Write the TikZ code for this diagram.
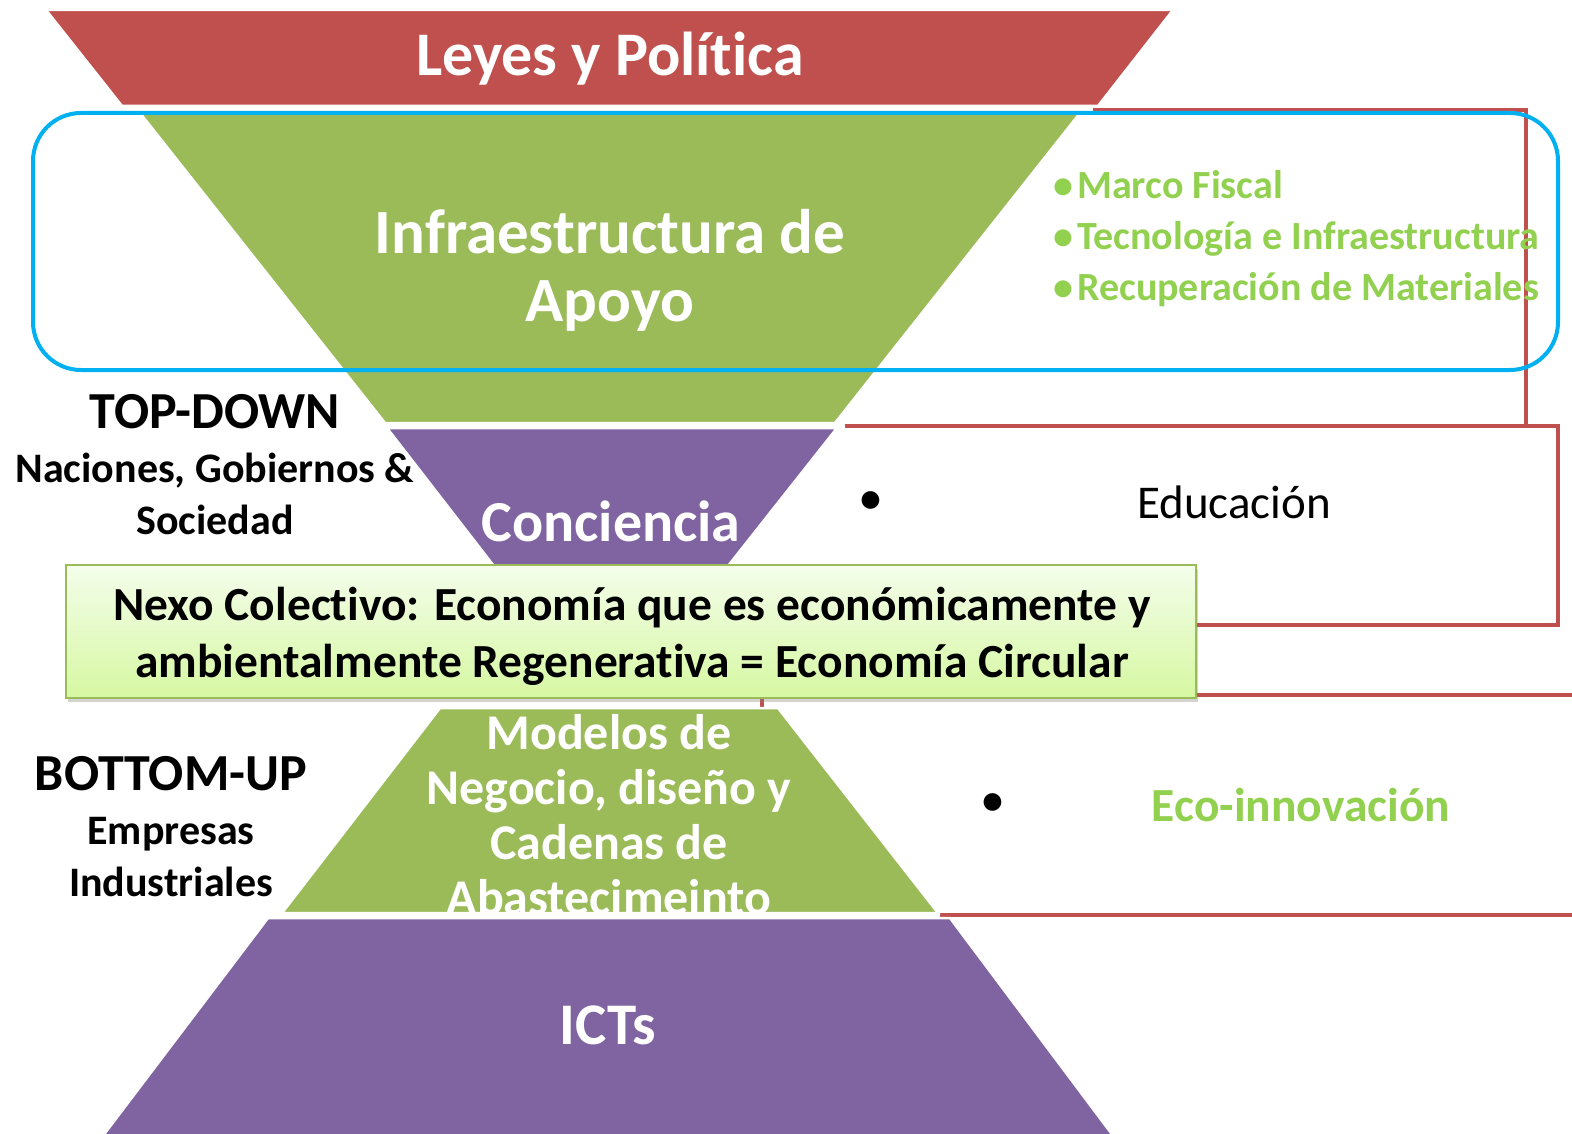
\documentclass[tikz,border=0pt]{standalone}
\usepackage{fontspec}
\setmainfont{Carlito}[Ligatures=NoCommon]
\usetikzlibrary{shadows}
\definecolor{redc}{HTML}{C0504D}
\definecolor{greenc}{HTML}{9BBB59}
\definecolor{purplec}{HTML}{8064A2}
\definecolor{lgreen}{HTML}{92D050}
\definecolor{bluec}{HTML}{00B0F0}
\definecolor{boxtop}{HTML}{F4FDEB}
\definecolor{boxbot}{HTML}{D6F8A2}
\begin{document}
\begin{tikzpicture}[x=1pt,y=-1pt,
  redline/.style={draw=redc, line width=3.5pt},
  band/.style={draw=white, line width=2.5pt},
  wtxt/.style={text=white, inner sep=0pt, align=center, font=#1},
  btxt/.style={text=black, inner sep=0pt, align=center, font=#1},
  nexo/.style={draw=greenc, line width=2pt, top color=boxtop, bottom color=boxbot,
    minimum width=1130pt, minimum height=133pt, inner sep=0pt,
    drop shadow={shadow xshift=2pt, shadow yshift=-4pt, opacity=0.35}}
]
\useasboundingbox (0,0) rectangle (1572,1134);
\clip (0,0) rectangle (1572,1134);

% red frame lines
\draw[redline] (1093,110) -- (1526,110) -- (1526,426);
\draw[redline] (845,426) -- (1558,426) -- (1558,625) -- (1190,625);
\draw[redline] (762,712) -- (762,695) -- (1580,695);
\draw[redline] (940,915) -- (1580,915);

% funnel bands
\filldraw[band, fill=redc] (46,10) -- (1173,10) -- (1098,106) -- (122,106) -- cycle;
\filldraw[band, fill=greenc] (140,113) -- (1080,113) -- (835,423) -- (385,423) -- cycle;
\draw[bluec, line width=4pt, rounded corners=48pt] (33,113) rectangle (1558,370);
\filldraw[band, fill=purplec] (387,428) -- (837,428) -- (630,690) -- (590,690) -- cycle;
\filldraw[band, fill=greenc] (440,708) -- (778,708) -- (938,913) -- (282,913) -- cycle;
\filldraw[band, fill=purplec] (268,918) -- (950,918) -- (1120,1145) -- (96,1145) -- cycle;

% band labels (multi-line nodes: base anchor = last line)
\node[wtxt=\fontsize{62}{68}\selectfont\bfseries, anchor=base] (leyes) at (610,76) {Leyes y Política};
\node[wtxt=\fontsize{63}{68}\selectfont\bfseries, anchor=base] (infra) at (610,321) {Infraestructura de\\Apoyo};
\node[wtxt=\fontsize{58}{64}\selectfont\bfseries, anchor=base] (conc) at (611,541) {Conciencia};
\begin{scope}
  \clip (440,708) -- (778,708) -- (938,913) -- (282,913) -- cycle;
  \node[wtxt=\fontsize{50}{55}\selectfont\bfseries, anchor=base] (modelos) at (609,914)
    {Modelos de\\Negocio, diseño y\\Cadenas de\\Abastecimeinto};
\end{scope}
\node[wtxt=\fontsize{59}{64}\selectfont\bfseries, anchor=base] (icts) at (608,1044) {ICTs};

% nexus box
\node[nexo] (nexobox) at (631,631.5) {};
\node[btxt=\fontsize{47.5}{57}\selectfont\bfseries, anchor=base] (nexotxt) at (632,677)
  {Nexo Colectivo: Economía que es económicamente y\\ambientalmente Regenerativa = Economía Circular};

% left labels
\node[btxt=\fontsize{52}{58}\selectfont\bfseries, anchor=base] (td) at (215,428) {TOP-DOWN};
\node[btxt=\fontsize{42}{52}\selectfont\bfseries, anchor=base] (tdsub) at (215,534) {Naciones, Gobiernos \&\\Sociedad};
\node[btxt=\fontsize{52}{58}\selectfont\bfseries, anchor=base] (bu) at (171,790) {BOTTOM-UP};
\node[btxt=\fontsize{42}{52}\selectfont\bfseries, anchor=base] (busub) at (171,896) {Empresas\\Industriales};

% right texts
\node[text=lgreen, inner sep=0pt, align=left, anchor=base west,
  font=\fontsize{40}{51}\selectfont\bfseries] (lista) at (1055,300)
  {\makebox[16pt][c]{•}\hspace{6pt}Marco Fiscal\\
   \makebox[16pt][c]{•}\hspace{6pt}Tecnología e Infraestructura\\
   \makebox[16pt][c]{•}\hspace{6pt}Recuperación de Materiales};
\node[btxt=\fontsize{50}{55}\selectfont, anchor=center] (bul1) at (871,503) {•};
\node[btxt=\fontsize{47}{55}\selectfont, anchor=base] (edu) at (1234,518) {Educación};
\node[btxt=\fontsize{50}{55}\selectfont, anchor=center] (bul2) at (993,805) {•};
\node[text=lgreen, inner sep=0pt, anchor=base, font=\fontsize{47.5}{55}\selectfont\bfseries] (eco) at (1301,821) {Eco-innovación};
\end{tikzpicture}
\end{document}
